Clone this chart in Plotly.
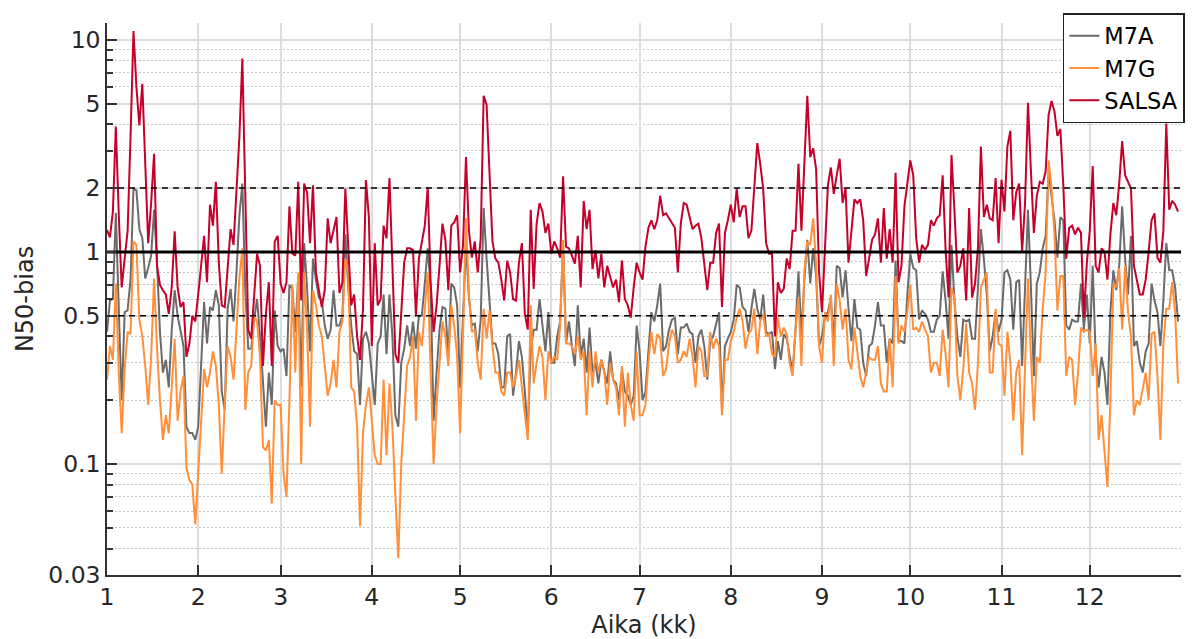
import math
import plotly.graph_objects as go

# ---- data (daily values, day index 0..364) ----
salsa = [1.27,1.17,1.55,3.9,1.5,0.68,0.93,1.25,3.5,11.0,6.0,3.95,6.2,2.7,1.1,1.7,2.9,0.86,0.70,0.66,
 0.63,0.51,0.68,1.25,0.68,0.55,0.58,0.32,0.37,0.50,0.47,0.63,0.86,1.19,0.72,1.67,1.33,2.14,0.89,0.56,
 0.55,0.89,1.28,1.08,1.98,3.5,8.15,2.0,0.43,0.39,0.61,0.98,0.86,0.29,0.51,0.72,0.29,1.12,1.19,0.71,
 0.64,0.72,1.64,0.98,0.96,2.14,0.59,2.1,1.91,1.1,2.06,0.8,0.66,0.55,0.66,1.44,1.1,1.28,1.46,0.64,
 0.72,1.99,1.0,0.56,0.63,0.4,0.31,0.54,2.18,1.46,0.36,1.1,0.56,0.6,1.33,1.16,2.23,0.86,0.33,0.3,
 0.55,0.89,1.04,1.04,1.02,0.5,0.93,1.1,1.33,2.02,0.71,0.42,0.56,0.86,1.36,1.14,0.66,1.33,1.38,1.49,
 0.8,1.08,2.8,1.26,0.94,1.12,0.8,1.16,5.45,4.95,2.3,1.12,0.93,0.89,0.74,0.59,0.91,0.8,0.6,0.59,
 0.89,1.1,0.51,0.43,1.58,0.67,1.36,1.7,1.55,1.23,1.36,0.98,1.12,1.04,0.94,2.27,1.06,1.04,0.96,0.88,
 1.19,0.68,1.74,1.28,1.58,0.83,1.02,0.75,0.98,0.68,0.86,0.77,0.68,0.74,0.58,0.91,0.6,0.56,0.49,0.68,
 0.89,0.8,0.74,1.06,1.3,1.41,1.28,1.41,1.84,1.49,1.52,1.44,1.36,1.3,0.8,1.36,1.7,1.67,1.46,1.28,
 1.33,1.36,1.16,0.88,0.66,0.89,0.89,1.23,1.36,0.55,1.23,1.41,1.67,1.38,1.99,1.46,1.64,1.64,1.16,1.26,
 2.06,3.26,2.6,1.99,1.1,0.98,0.98,0.4,0.72,0.64,0.67,0.93,0.83,1.26,1.26,2.6,1.26,2.7,5.45,2.8,
 3.08,2.45,0.8,0.52,1.04,2.06,2.5,1.88,2.3,2.75,1.7,1.99,0.89,1.21,1.77,1.7,1.77,1.41,0.77,0.93,
 1.14,1.21,1.44,0.89,1.61,0.93,1.28,0.89,2.36,0.72,0.86,1.64,2.06,2.7,2.3,1.16,0.89,1.08,1.02,1.08,
 1.41,1.33,1.44,1.49,2.3,1.02,0.61,2.86,1.58,0.8,0.86,1.04,0.59,1.61,0.61,0.71,1.04,3.14,1.46,1.67,
 1.44,1.41,2.23,1.1,2.19,1.55,3.14,3.72,1.41,1.91,2.1,1.0,1.7,5.05,2.4,1.23,1.84,2.14,2.1,2.4,
 4.43,5.15,4.6,3.52,3.8,2.06,0.93,1.3,1.33,1.21,1.3,1.23,0.49,0.89,1.26,2.54,0.86,0.8,1.04,1.0,
 0.74,1.21,1.7,1.49,2.1,3.33,2.3,2.14,1.99,0.86,0.74,0.63,0.63,0.74,1.0,1.41,1.52,0.94,0.89,1.26,
 4.03,1.58,1.74,1.67,1.55]

m7a = [0.42,0.59,0.6,1.53,0.54,0.2,0.52,0.53,0.74,1.99,1.95,1.28,1.16,0.75,0.84,0.96,1.58,0.89,0.42,0.27,
 0.31,0.23,0.43,0.66,0.5,0.43,0.36,0.15,0.14,0.14,0.13,0.15,0.3,0.58,0.37,0.55,0.53,0.66,0.56,0.22,
 0.18,0.54,0.67,0.47,0.8,1.49,2.1,0.66,0.35,0.35,0.48,0.6,0.4,0.23,0.15,0.27,0.19,0.53,0.36,0.34,
 0.35,0.26,0.7,0.67,0.42,0.77,0.23,1.1,0.68,0.34,0.93,0.74,0.61,0.59,0.45,0.39,0.43,0.66,0.45,0.45,
 0.5,1.21,0.68,0.45,0.34,0.33,0.19,0.39,0.42,0.37,0.27,0.19,0.37,0.4,0.63,0.33,0.63,0.4,0.17,0.15,
 0.3,0.35,0.45,0.36,0.47,0.35,0.5,0.5,0.71,1.04,0.68,0.16,0.27,0.43,0.55,0.54,0.32,0.71,0.68,0.56,
 0.23,0.5,1.08,0.61,0.45,0.46,0.34,0.48,1.61,0.93,0.61,0.37,0.37,0.33,0.23,0.23,0.4,0.41,0.21,0.27,
 0.38,0.32,0.22,0.14,0.34,0.43,0.43,0.6,0.45,0.34,0.52,0.3,0.3,0.4,0.47,1.08,0.37,0.47,0.36,0.29,
 0.56,0.32,0.39,0.27,0.44,0.27,0.3,0.24,0.31,0.27,0.24,0.34,0.25,0.24,0.2,0.28,0.22,0.21,0.19,0.21,
 0.45,0.34,0.2,0.22,0.34,0.52,0.47,0.56,0.71,0.34,0.36,0.43,0.48,0.49,0.33,0.44,0.44,0.46,0.42,0.41,
 0.3,0.4,0.43,0.36,0.25,0.38,0.4,0.45,0.52,0.18,0.36,0.39,0.42,0.48,0.7,0.68,0.55,0.53,0.42,0.54,
 0.67,0.54,0.48,0.63,0.42,0.41,0.42,0.28,0.38,0.31,0.41,0.39,0.33,0.27,0.43,0.81,0.4,0.74,1.14,0.71,
 1.04,0.77,0.36,0.4,0.5,0.52,0.61,0.37,0.86,0.84,0.61,0.82,0.54,0.38,0.6,0.44,0.43,0.3,0.26,0.36,
 0.37,0.45,0.58,0.45,0.45,0.3,0.39,0.37,0.91,0.38,0.38,0.37,0.63,0.98,0.84,0.82,0.48,0.53,0.51,0.48,
 0.42,0.42,0.48,0.5,0.81,0.59,0.39,1.08,0.59,0.4,0.32,0.48,0.47,0.48,0.39,0.39,0.68,1.28,0.93,0.63,
 0.34,0.4,0.52,0.42,0.48,0.8,0.82,0.74,0.43,0.72,0.74,0.29,0.68,1.58,0.68,0.26,0.71,0.8,1.04,1.19,
 2.4,1.84,1.41,0.94,1.46,1.41,0.45,0.43,0.48,0.47,0.47,0.71,0.43,0.63,0.37,0.86,0.32,0.23,0.32,0.27,
 0.19,0.52,0.82,0.66,0.86,1.64,0.93,0.63,1.19,0.36,0.38,0.3,0.27,0.34,0.37,0.71,0.59,0.52,0.36,0.59,
 1.1,0.82,0.82,0.68,0.47]

m7g = [0.25,0.36,0.31,0.71,0.27,0.14,0.28,0.42,0.41,1.12,1.08,0.48,0.4,0.29,0.19,0.32,0.75,0.35,0.2,0.13,
 0.17,0.14,0.23,0.39,0.16,0.22,0.26,0.096,0.084,0.08,0.052,0.09,0.17,0.28,0.23,0.27,0.34,0.29,0.19,0.09,
 0.19,0.36,0.32,0.25,0.43,0.76,1.04,0.18,0.27,0.29,0.5,0.47,0.32,0.12,0.116,0.13,0.065,0.2,0.19,0.19,
 0.09,0.07,0.2,0.7,0.27,0.8,0.1,0.8,0.43,0.15,0.66,0.56,0.45,0.4,0.29,0.21,0.24,0.31,0.23,0.42,
 0.47,0.93,0.8,0.23,0.22,0.15,0.051,0.14,0.19,0.23,0.16,0.11,0.1,0.1,0.25,0.11,0.24,0.15,0.071,0.036,
 0.1,0.17,0.29,0.32,0.4,0.16,0.42,0.36,0.54,0.8,0.27,0.1,0.19,0.31,0.47,0.4,0.29,0.56,0.45,0.32,
 0.14,0.42,1.44,0.63,0.42,0.43,0.3,0.25,0.54,0.39,0.53,0.36,0.27,0.27,0.22,0.21,0.27,0.27,0.23,0.26,
 0.31,0.23,0.17,0.13,0.56,0.24,0.3,0.36,0.32,0.2,0.34,0.3,0.32,0.31,0.45,1.14,0.37,0.37,0.36,0.33,
 0.4,0.31,0.34,0.17,0.34,0.23,0.34,0.27,0.31,0.27,0.19,0.3,0.25,0.23,0.17,0.29,0.15,0.27,0.19,0.16,
 0.34,0.17,0.17,0.19,0.3,0.42,0.33,0.41,0.39,0.26,0.28,0.37,0.43,0.4,0.3,0.31,0.34,0.32,0.39,0.32,
 0.23,0.36,0.34,0.26,0.26,0.42,0.35,0.39,0.36,0.17,0.31,0.31,0.38,0.42,0.49,0.54,0.47,0.35,0.41,0.43,
 0.54,0.33,0.47,0.51,0.4,0.41,0.33,0.32,0.49,0.4,0.44,0.41,0.3,0.26,0.43,0.61,0.29,0.81,1.12,1.08,
 1.44,0.86,0.36,0.3,0.52,0.47,0.63,0.29,0.71,0.59,0.43,0.54,0.31,0.28,0.44,0.33,0.26,0.23,0.27,0.32,
 0.31,0.31,0.36,0.24,0.22,0.22,0.39,0.23,0.77,0.37,0.45,0.42,0.52,0.7,0.43,0.44,0.42,0.47,0.43,0.4,
 0.27,0.3,0.3,0.26,0.43,0.33,0.23,0.68,0.61,0.26,0.2,0.28,0.46,0.27,0.24,0.18,0.3,0.68,0.74,0.8,
 0.27,0.27,0.54,0.37,0.36,0.21,0.42,0.3,0.16,0.27,0.31,0.11,0.29,0.75,0.32,0.16,0.32,0.3,0.54,0.8,
 2.7,2.0,1.21,0.53,0.77,0.77,0.26,0.32,0.31,0.19,0.27,0.44,0.42,0.43,0.42,0.26,0.37,0.13,0.17,0.12,
 0.078,0.2,0.71,0.68,0.84,0.43,0.86,0.52,0.4,0.17,0.2,0.19,0.23,0.27,0.2,0.41,0.42,0.26,0.13,0.37,
 0.54,0.54,0.72,0.52,0.24]

days = list(range(len(salsa)))
series_names = ["M7A", "M7G", "SALSA"]
series_colors = ["#6b6b6b", "#ff8f3a", "#c4002b"]

month_start_days = [0, 31, 59, 90, 120, 151, 181, 212, 243, 273, 304, 334]
month_labels = ["1", "2", "3", "4", "5", "6", "7", "8", "9", "10", "11", "12"]
x_end_day = 365

y_major = [0.03, 0.1, 0.5, 1, 2, 5, 10]
y_major_text = ["0.03", "0.1", "0.5", "1", "2", "5", "10"]
y_minor = [0.04, 0.05, 0.06, 0.07, 0.08, 0.09, 0.2, 0.3, 0.4, 0.6, 0.7, 0.8, 0.9, 3, 4, 6, 7, 8, 9]
y_bottom, y_top = 0.03, 12

ref_dashed = [0.5, 2]
ref_solid = [1]

FONT = "DejaVu Sans"
fig = go.Figure()

for name, ys, col in zip(series_names, [m7a, m7g, salsa], series_colors):
    fig.add_trace(go.Scatter(x=days, y=ys, mode="lines", name=name,
                             line=dict(color=col, width=2)))

for lv in ref_dashed:
    fig.add_trace(go.Scatter(x=[0, x_end_day], y=[lv, lv], mode="lines", showlegend=False,
                             hoverinfo="skip", line=dict(color="black", width=1.5, dash="6px,5px")))
for lv in ref_solid:
    fig.add_trace(go.Scatter(x=[0, x_end_day], y=[lv, lv], mode="lines", showlegend=False,
                             hoverinfo="skip", line=dict(color="black", width=3)))

fig.update_layout(
    width=1193, height=639,
    margin=dict(l=107, r=12, t=23, b=64, autoexpand=False),
    paper_bgcolor="white", plot_bgcolor="white",
    font=dict(family=FONT, size=23, color="#262626"),
    legend=dict(x=0.89, y=1.018, xanchor="left", yanchor="top",
                bgcolor="white", bordercolor="#222222", borderwidth=1.5,
                font=dict(size=22.5, color="black"), tracegroupgap=0),
)
fig.update_xaxes(
    automargin=False,
    range=[0, x_end_day], tickmode="array", tickvals=month_start_days, ticktext=month_labels,
    ticks="inside", ticklen=10, tickwidth=1.5, tickcolor="#333333",
    showline=True, linecolor="#333333", linewidth=1.5,
    showgrid=True, gridcolor="#dddddd", gridwidth=1.5, zeroline=False,
    title=dict(text="Aika (kk)", standoff=19, font=dict(size=24)),
    tickfont=dict(size=23.5),
)
fig.update_yaxes(
    automargin=False,
    type="log", range=[math.log10(y_bottom), math.log10(y_top)],
    tickmode="array", tickvals=y_major, ticktext=y_major_text,
    ticks="inside", ticklen=10, tickwidth=1.5, tickcolor="#333333",
    showline=True, linecolor="#333333", linewidth=1.5,
    showgrid=True, gridcolor="#dddddd", gridwidth=1.5, zeroline=False,
    minor=dict(tickmode="array", tickvals=y_minor, ticks="inside", ticklen=6,
               tickcolor="#333333", showgrid=True, gridcolor="#c4c4c4",
               griddash="1.5px,2.5px", gridwidth=1),
    title=dict(text="N50-bias", standoff=8, font=dict(size=24)),
    tickfont=dict(size=23.5),
)

fig.write_html("out.html")
